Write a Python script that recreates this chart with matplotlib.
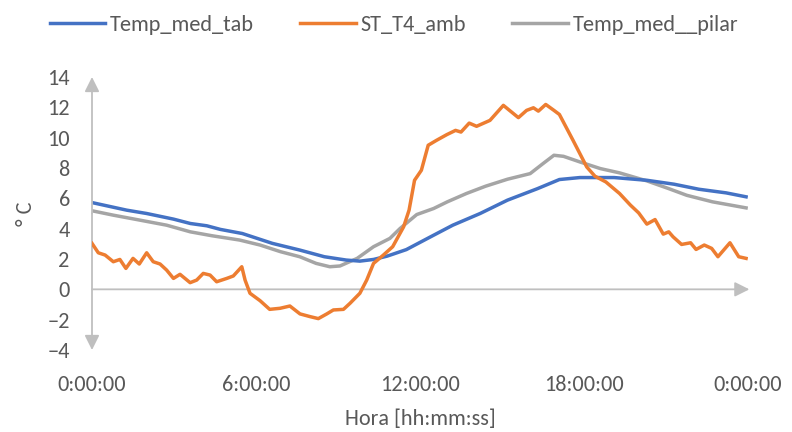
import matplotlib
matplotlib.use("Agg")
import matplotlib.pyplot as plt
from matplotlib.ticker import FixedLocator, FixedFormatter

plt.rcParams["font.family"] = ["Carlito", "Liberation Sans Narrow", "DejaVu Sans"]

# hours since midnight / °C
tab_h = [0, 1.27, 2.0, 2.98, 3.6, 4.2, 4.7, 5.5, 6.6, 7.6, 8.5, 9.3, 9.8, 10.3,
         10.8, 11.5, 12.5, 13.2, 14.2, 15.2, 16.3, 17.1, 17.85, 19.1, 20.3,
         21.3, 22.2, 23.2, 23.93]
tab_t = [5.72, 5.22, 5.0, 4.63, 4.34, 4.19, 3.95, 3.68, 3.03, 2.59, 2.15, 1.93,
         1.86, 1.97, 2.19, 2.62, 3.57, 4.23, 5.0, 5.88, 6.64, 7.24, 7.37, 7.37,
         7.19, 6.93, 6.6, 6.36, 6.1]

amb_h = [0, 0.23, 0.48, 0.78, 1.02, 1.24, 1.5, 1.73, 2.0, 2.24, 2.49, 2.73,
         2.98, 3.22, 3.59, 3.83, 4.07, 4.32, 4.56, 4.93, 5.17, 5.48, 5.6, 5.78,
         6.15, 6.5, 6.88, 7.24, 7.61, 7.98, 8.28, 8.59, 8.83, 9.2, 9.44, 9.8,
         10.05, 10.3, 10.66, 11.0, 11.4, 11.6, 11.8, 12.05, 12.3, 12.6, 12.98,
         13.3, 13.5, 13.8, 14.07, 14.56, 15.05, 15.6, 15.9, 16.15, 16.33, 16.6,
         16.9, 17.1, 17.6, 18.1, 18.4, 18.8, 19.3, 19.7, 20.0, 20.3, 20.6, 20.9,
         21.1, 21.26, 21.57, 21.9, 22.1, 22.4, 22.67, 22.9, 23.34, 23.66, 23.93]
amb_t = [3.03, 2.41, 2.26, 1.82, 1.97, 1.38, 2.04, 1.67, 2.41, 1.82, 1.67, 1.27,
         0.72, 0.99, 0.44, 0.61, 1.05, 0.94, 0.5, 0.72, 0.88, 1.49, 0.61, -0.26,
         -0.75, -1.32, -1.25, -1.1, -1.62, -1.8, -1.93, -1.62, -1.36, -1.32,
         -0.92, -0.26, 0.61, 1.71, 2.26, 2.81, 4.12, 5.22, 7.19, 7.85, 9.5,
         9.82, 10.2, 10.48, 10.37, 10.96, 10.75, 11.14, 12.13, 11.32, 11.8,
         11.97, 11.75, 12.19, 11.8, 11.53, 9.82, 8.07, 7.46, 7.08, 6.32, 5.55,
         5.04, 4.3, 4.6, 3.64, 3.79, 3.46, 2.96, 3.07, 2.63, 2.92, 2.7, 2.15,
         3.07, 2.15, 2.04]

pilar_h = [0, 0.78, 1.76, 2.73, 3.6, 4.4, 5.4, 6.15, 6.9, 7.6, 8.2, 8.7, 9.07,
           9.7, 10.3, 10.9, 11.27, 11.88, 12.5, 13.0, 13.7, 14.4, 15.2, 16.03,
           16.5, 16.9, 17.25, 17.85, 18.6, 19.3, 20.3, 21.1, 21.76, 22.7, 23.93]
pilar_t = [5.18, 4.89, 4.56, 4.23, 3.79, 3.53, 3.25, 2.92, 2.48, 2.15, 1.71,
           1.49, 1.54, 2.04, 2.81, 3.36, 4.01, 4.93, 5.33, 5.77, 6.32, 6.8,
           7.26, 7.63, 8.29, 8.84, 8.77, 8.4, 7.96, 7.68, 7.15, 6.64, 6.2, 5.77,
           5.37]

x_ticks = [0, 6, 12, 18, 24]
x_labels = ["0:00:00", "6:00:00", "12:00:00", "18:00:00", "0:00:00"]
y_ticks = [-4, -2, 0, 2, 4, 6, 8, 10, 12, 14]

TXT = "#595959"
AXC = "#BFBFBF"
FS = 16

fig = plt.figure(figsize=(7.92, 4.32), dpi=100)
ax = fig.add_axes([92 / 792, 1 - 350 / 432, 656 / 792, (350 - 77) / 432])

ax.plot(tab_h, tab_t, color="#4472C4", lw=2.5, label="Temp_med_tab", zorder=3)
ax.plot(amb_h, amb_t, color="#ED7D31", lw=2.5, label="ST_T4_amb", zorder=4)
ax.plot(pilar_h, pilar_t, color="#A5A5A5", lw=2.5, label="Temp_med__pilar", zorder=2)

ax.set_xlim(0, 24)
ax.set_ylim(-4, 14)
for s in ax.spines.values():
    s.set_visible(False)

# axes drawn as arrows, like the Excel original
arrow = dict(arrowstyle="-|>", color=AXC, lw=1.3, mutation_scale=22, shrinkA=0, shrinkB=0)
ax.annotate("", xy=(24.05, 0), xytext=(0, 0), arrowprops=arrow, annotation_clip=False)
ax.annotate("", xy=(0, 14), xytext=(0, 5), arrowprops=arrow, annotation_clip=False)
ax.annotate("", xy=(0, -4), xytext=(0, 5), arrowprops=arrow, annotation_clip=False)

ax.xaxis.set_major_locator(FixedLocator(x_ticks))
ax.xaxis.set_major_formatter(FixedFormatter(x_labels))
ax.set_yticks(y_ticks)
ax.tick_params(axis="x", length=0, pad=18, labelsize=FS, labelcolor=TXT)
ax.tick_params(axis="y", length=0, pad=16, labelsize=FS, labelcolor=TXT)

ax.set_xlabel("Hora [hh:mm:ss]", fontsize=FS, color=TXT, labelpad=10)
ax.set_ylabel("° C", fontsize=FS, color=TXT, labelpad=8)

ax.legend(loc="center", bbox_to_anchor=(0.46, 1.19), ncol=3, frameon=False,
          fontsize=FS, labelcolor=TXT, handlelength=2.5, handletextpad=0.2,
          columnspacing=2.1)

fig.savefig("out.png", dpi=100)
